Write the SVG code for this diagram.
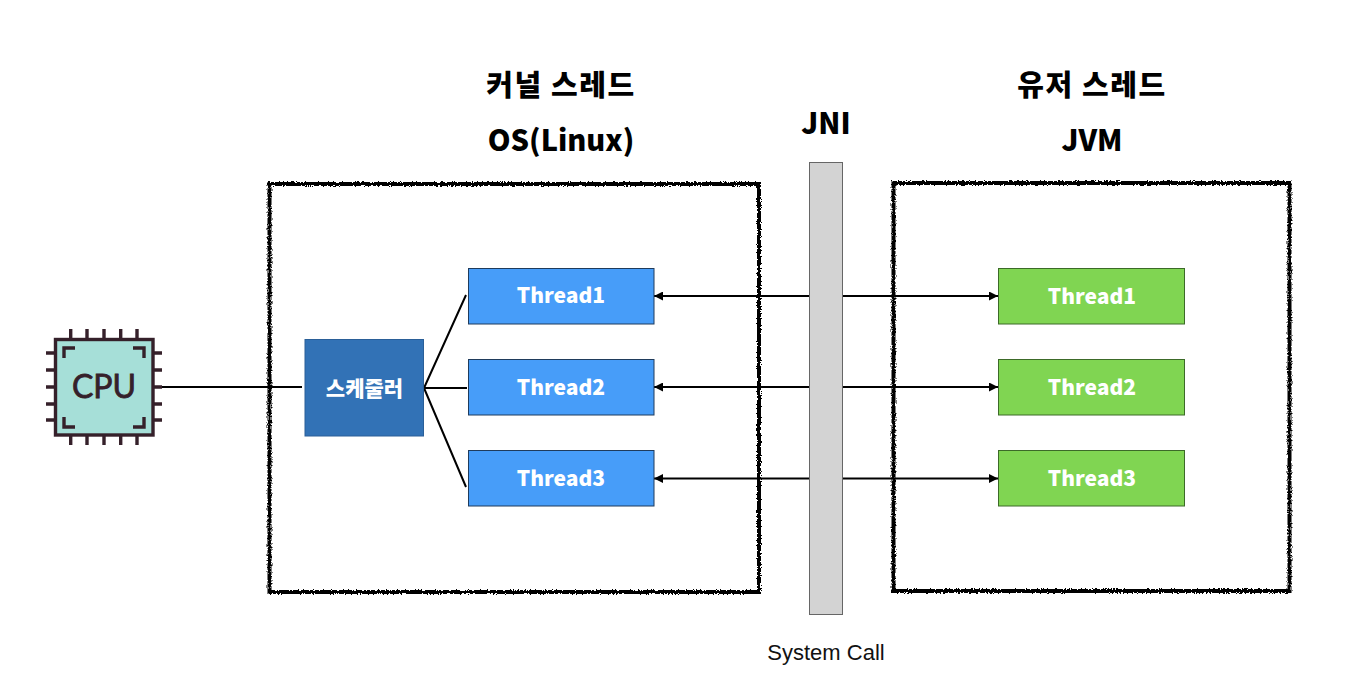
<svg xmlns="http://www.w3.org/2000/svg" width="1360" height="682" viewBox="0 0 1360 682">
<style>
.title{font-family:"Noto Sans CJK KR","Noto Sans",sans-serif;font-weight:900;font-size:29px;fill:#000;text-anchor:middle}
.ko{letter-spacing:1.6px}
.lbl{font-family:"Noto Sans CJK KR","Noto Sans",sans-serif;font-weight:900;font-size:21px;fill:#fff;text-anchor:middle}
.frame{fill:none;stroke:#000;stroke-width:4;filter:url(#rough)}
.blue{fill:#479df9;stroke:#1f3b5c;stroke-width:1}
.green{fill:#80d552;stroke:#3c6a28;stroke-width:1}
.conn{stroke:#000;stroke-width:2;fill:none}
.pin{stroke:#35202a;stroke-width:3.4;fill:none}
</style>
<defs>
<filter id="rough" x="-2%" y="-2%" width="104%" height="104%">
<feTurbulence type="fractalNoise" baseFrequency="0.6" numOctaves="2" seed="4"/>
<feDisplacementMap in="SourceGraphic" scale="4" xChannelSelector="R" yChannelSelector="G"/>
</filter>
<marker id="arr" viewBox="0 0 10 10" refX="10" refY="5" markerWidth="10" markerHeight="9" markerUnits="userSpaceOnUse" orient="auto-start-reverse"><path d="M0 0L10 5L0 10Z" fill="#000"/></marker>
</defs>
<rect width="1360" height="682" fill="#fff"/>
<g id="kernel-frame"><rect class="frame" x="269.500" y="184" width="489.500" height="408"/></g>
<g id="user-frame"><rect class="frame" x="893.500" y="183" width="396" height="408"/></g>
<g id="connectors">
<path class="conn" d="M153 387H302"/>
<path class="conn" d="M424 388L466 295M424 388H467M424 388L466 487"/>
<path class="conn" marker-start="url(#arr)" marker-end="url(#arr)" d="M654 296H998"/>
<path class="conn" marker-start="url(#arr)" marker-end="url(#arr)" d="M654 387H998"/>
<path class="conn" marker-start="url(#arr)" marker-end="url(#arr)" d="M654 478.500H998"/>
</g>
<g id="jni-bar"><rect x="809.500" y="162.500" width="33" height="452" fill="#d3d3d3" stroke="#666" stroke-width="1"/></g>
<g id="cpu">
<path class="pin" d="M70.700 329V339M87 329V339M104 329V339M120.700 329V339M137 329V339M70.700 435V445M87 435V445M104 435V445M120.700 435V445M137 435V445M46 353H55M46 370H55M46 387H55M46 404H55M46 420H55M153 353H162M153 370H162M153 387H162M153 404H162M153 420H162"/>
<rect x="55.500" y="339.500" width="97.500" height="95.500" fill="#a6dfd8" stroke="#35202a" stroke-width="3.400"/>
<path class="pin" d="M64 358V348H75M144 358V348H133M64 417V427H75M144 417V427H133"/>
<text x="104" y="398" font-family="Lato,'Noto Sans',sans-serif" font-size="32" stroke="#35202a" stroke-width="0.8" fill="#35202a" text-anchor="middle">CPU</text>
</g>
<g id="scheduler"><rect x="305" y="339.500" width="118.500" height="96.500" fill="#3272b6" stroke="#2a5f98" stroke-width="1"/><text class="lbl" x="364.500" y="396" style="font-size:21px">스케줄러</text></g>
<g id="k-thread1"><rect class="blue" x="468.500" y="268.500" width="185.500" height="55.500"/><text class="lbl" x="561" y="303">Thread1</text></g>
<g id="k-thread2"><rect class="blue" x="468.500" y="359.500" width="185.500" height="55.500"/><text class="lbl" x="561" y="395">Thread2</text></g>
<g id="k-thread3"><rect class="blue" x="468.500" y="450.500" width="185.500" height="55.500"/><text class="lbl" x="561" y="486">Thread3</text></g>
<g id="u-thread1"><rect class="green" x="998.500" y="268.500" width="186" height="55.500"/><text class="lbl" x="1092" y="304">Thread1</text></g>
<g id="u-thread2"><rect class="green" x="998.500" y="359.500" width="186" height="55.500"/><text class="lbl" x="1092" y="395">Thread2</text></g>
<g id="u-thread3"><rect class="green" x="998.500" y="450.500" width="186" height="55.500"/><text class="lbl" x="1092" y="486">Thread3</text></g>
<g id="titles">
<text class="title ko" x="561" y="96">커널 스레드</text>
<text class="title" x="561" y="151">OS(Linux)</text>
<text class="title" x="826" y="134">JNI</text>
<text class="title ko" x="1092" y="96">유저 스레드</text>
<text class="title" x="1092" y="151">JVM</text>
</g>
<text x="826" y="660" font-family="'Liberation Sans',Arial,sans-serif" font-size="22" fill="#111" text-anchor="middle">System Call</text>
</svg>
